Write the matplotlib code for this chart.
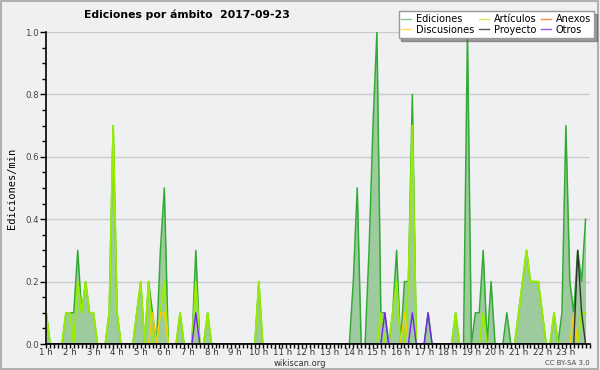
import matplotlib
matplotlib.use("Agg")
import matplotlib.pyplot as plt
from matplotlib.lines import Line2D
from matplotlib.patches import Rectangle
import numpy as np

# 10-minute bins starting at 1 h (edits per minute)
start_hour = 1
bin_minutes = 10

ediciones = [
    0.1, 0, 0, 0, 0, 0.1, 0.1, 0.1, 0.3, 0.1, 0.2, 0.1,
    0.1, 0, 0, 0, 0.1, 0.7, 0.1, 0, 0, 0, 0, 0.1,
    0.2, 0, 0.2, 0.1, 0, 0.3, 0.5, 0, 0, 0, 0.1, 0,
    0, 0, 0.3, 0, 0, 0.1, 0, 0, 0, 0, 0, 0,
    0, 0, 0, 0, 0, 0, 0.2, 0, 0, 0, 0, 0,
    0, 0, 0, 0, 0, 0, 0, 0, 0, 0, 0, 0,
    0, 0, 0, 0, 0, 0, 0.2, 0.5, 0, 0, 0.3, 0.7,
    1.0, 0.1, 0.1, 0, 0.1, 0.3, 0, 0.2, 0.2, 0.8, 0, 0,
    0, 0.1, 0, 0, 0, 0, 0, 0, 0.1, 0, 0, 1.0,
    0, 0.1, 0.1, 0.3, 0, 0.2, 0, 0, 0, 0.1, 0, 0,
    0.1, 0.2, 0.3, 0.2, 0.2, 0.2, 0.1, 0, 0, 0.1, 0, 0.1,
    0.7, 0.2, 0.1, 0.3, 0.2, 0.4,
]
articulos = [
    0.1, 0, 0, 0, 0, 0.1, 0.1, 0, 0.2, 0.1, 0.2, 0.1,
    0.1, 0, 0, 0, 0.1, 0.7, 0.1, 0, 0, 0, 0, 0.1,
    0.2, 0, 0.2, 0, 0, 0.1, 0.2, 0, 0, 0, 0.1, 0,
    0, 0, 0.2, 0, 0, 0.1, 0, 0, 0, 0, 0, 0,
    0, 0, 0, 0, 0, 0, 0.2, 0, 0, 0, 0, 0,
    0, 0, 0, 0, 0, 0, 0, 0, 0, 0, 0, 0,
    0, 0, 0, 0, 0, 0, 0, 0, 0, 0, 0, 0,
    0, 0.1, 0, 0, 0.1, 0.2, 0, 0, 0.2, 0.7, 0, 0,
    0, 0, 0, 0, 0, 0, 0, 0, 0.1, 0, 0, 0,
    0, 0, 0, 0.1, 0, 0, 0, 0, 0, 0, 0, 0,
    0.1, 0.2, 0.3, 0.2, 0.2, 0.2, 0.1, 0, 0, 0.1, 0, 0,
    0, 0, 0, 0, 0.1, 0.1,
]
discusiones = [
    0, 0, 0, 0, 0, 0, 0, 0, 0, 0, 0, 0,
    0, 0, 0, 0, 0, 0, 0, 0, 0, 0, 0, 0,
    0, 0, 0, 0.1, 0, 0.1, 0.1, 0, 0, 0, 0, 0,
    0, 0, 0, 0, 0, 0, 0, 0, 0, 0, 0, 0,
    0, 0, 0, 0, 0, 0, 0, 0, 0, 0, 0, 0,
    0, 0, 0, 0, 0, 0, 0, 0, 0, 0, 0, 0,
    0, 0, 0, 0, 0, 0, 0, 0, 0, 0, 0, 0,
    0, 0, 0, 0, 0, 0, 0, 0.1, 0, 0, 0, 0,
    0, 0, 0, 0, 0, 0, 0, 0, 0, 0, 0, 0,
    0, 0, 0, 0, 0, 0, 0, 0, 0, 0, 0, 0,
    0, 0, 0, 0, 0, 0, 0, 0, 0, 0, 0, 0,
    0, 0, 0.1, 0, 0, 0,
]
anexos = [0] * 138
proyecto = [0] * 135 + [0.3, 0.1, 0]
otros = [
    0, 0, 0, 0, 0, 0, 0, 0, 0, 0, 0, 0,
    0, 0, 0, 0, 0, 0, 0, 0, 0, 0, 0, 0,
    0, 0, 0, 0, 0, 0, 0, 0, 0, 0, 0, 0,
    0, 0, 0.1, 0, 0, 0, 0, 0, 0, 0, 0, 0,
    0, 0, 0, 0, 0, 0, 0, 0, 0, 0, 0, 0,
    0, 0, 0, 0, 0, 0, 0, 0, 0, 0, 0, 0,
    0, 0, 0, 0, 0, 0, 0, 0, 0, 0, 0, 0,
    0, 0, 0.1, 0, 0, 0, 0, 0, 0, 0.1, 0, 0,
    0, 0.1, 0, 0, 0, 0, 0, 0, 0, 0, 0, 0,
    0, 0, 0, 0, 0, 0, 0, 0, 0, 0, 0, 0,
    0, 0, 0, 0, 0, 0, 0, 0, 0, 0, 0, 0,
    0, 0, 0, 0, 0, 0,
]

hour_ticks = list(range(1, 24))
hour_labels = [f"{h} h" for h in hour_ticks]
title = "Ediciones por ámbito  2017-09-23"

t = start_hour + np.arange(len(ediciones)) * bin_minutes / 60.0

bg = "#f0f0f0"
fig = plt.figure(figsize=(6, 3.7), dpi=100, facecolor=bg)
fig.add_artist(Rectangle((0.002, 0.003), 0.995, 0.994, transform=fig.transFigure,
                         fill=False, edgecolor="#b0b0b0", linewidth=1.5))
ax = fig.add_axes([46 / 600, 1 - 344 / 370, (589.5 - 46) / 600, (344 - 32) / 370])
ax.set_facecolor("#eff0f2")

ax.fill_between(t, ediciones, 0, color="#9dcb9d", linewidth=0, zorder=2)
ax.plot(t, ediciones, color="#33aa33", lw=1.1, zorder=3)
ax.plot(t, articulos, color="#99ee00", lw=1.3, zorder=4)
ax.plot(t, anexos, color="#ff7733", lw=1.0, zorder=4, alpha=0)
ax.plot(t, discusiones, color="#ffcc00", lw=1.0, zorder=5)
ax.plot(t, otros, color="#7722ee", lw=1.0, zorder=6)
ax.plot(t, proyecto, color="#333333", lw=1.0, zorder=7)

ax.set_xlim(t[0] - 0.01, t[-1] + 0.01)
ax.set_ylim(0, 1.0)
ax.set_xticks(hour_ticks)
ax.set_xticklabels(hour_labels, fontsize=6.2, color="#333333")
ax.set_xticks(np.arange(1, 24.01, 1 / 6), minor=True)
ax.set_yticks(np.arange(0, 1.01, 0.2))
ax.set_yticklabels([f"{v:.1f}" for v in np.arange(0, 1.01, 0.2)], fontsize=6.2, color="#444444")
ax.set_yticks(np.arange(0, 1.01, 0.05), minor=True)
ax.tick_params(axis="x", which="major", length=3, width=1, pad=0, direction="out")
ax.tick_params(axis="x", which="minor", length=3, width=1, direction="out")
ax.tick_params(axis="y", which="major", length=4, width=1, pad=1, direction="out")
ax.tick_params(axis="y", which="minor", length=3, width=1, direction="out")
ax.grid(axis="y", which="major", color="#cccccc", linewidth=1, zorder=0)
ax.set_axisbelow(True)
for s in ("top", "right"):
    ax.spines[s].set_visible(False)
for s in ("left", "bottom"):
    ax.spines[s].set_linewidth(1.2)
    ax.spines[s].set_zorder(10)
ax.set_ylabel("Ediciones/min", fontsize=7.5, family="DejaVu Sans Mono", labelpad=6)

fig.text(187 / 600, 1 - 15 / 370, title, ha="center", va="center",
         fontsize=7.8, fontweight="bold")
fig.text(300 / 600, 1 - 364 / 370, "wikiscan.org", ha="center", va="center",
         fontsize=6, color="#333333")
fig.text(590 / 600, 1 - 363 / 370, "CC BY-SA 3.0", ha="right", va="center",
         fontsize=5, color="#444444")

handles = [
    Line2D([], [], color="#88cc88", lw=1),
    Line2D([], [], color="#ffdd55", lw=1),
    Line2D([], [], color="#ccee55", lw=1),
    Line2D([], [], color="#555555", lw=1),
    Line2D([], [], color="#ff8844", lw=1),
    Line2D([], [], color="#9955ee", lw=1),
]
labels = ["Ediciones", "Discusiones", "Artículos", "Proyecto", "Anexos", "Otros"]
leg = fig.legend(handles, labels, ncol=3, loc="upper right",
                 bbox_to_anchor=(594 / 600, 1 - 11 / 370), fontsize=7,
                 frameon=True, fancybox=False, shadow=True, handlelength=1.0,
                 handletextpad=0.5, columnspacing=0.5, labelspacing=0.1,
                 borderpad=0.3, borderaxespad=0)
leg.get_frame().set_edgecolor("#999999")
leg.get_frame().set_facecolor("white")
leg.get_frame().set_linewidth(1)

fig.savefig("out.png", dpi=100, facecolor=bg)
